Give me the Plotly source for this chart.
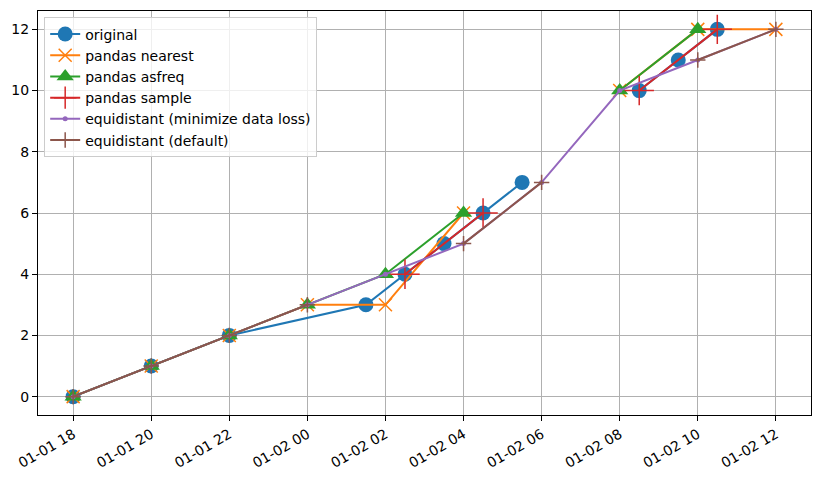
import plotly.graph_objects as go

# ---- data ----
orig_x = ["2021-01-01 18:00", "2021-01-01 20:00", "2021-01-01 22:00",
          "2021-01-02 01:30", "2021-01-02 02:30", "2021-01-02 03:30",
          "2021-01-02 04:30", "2021-01-02 05:30", "2021-01-02 07:00",
          "2021-01-02 08:30", "2021-01-02 09:30", "2021-01-02 10:30"]
orig_y = [0, 1, 2, 3, 4, 5, 6, 7, None, 10, 11, 12]

grid_x = ["2021-01-01 18:00", "2021-01-01 20:00", "2021-01-01 22:00",
          "2021-01-02 00:00", "2021-01-02 02:00", "2021-01-02 04:00",
          "2021-01-02 06:00", "2021-01-02 08:00", "2021-01-02 10:00",
          "2021-01-02 12:00"]
nearest_y = [0, 1, 2, 3, 3, 6, None, 10, 12, 12]
asfreq_y = [0, 1, 2, 3, 4, 6, None, 10, 12, None]
eq_min_y = [0, 1, 2, 3, 4, 5, 7, 10, 11, 12]
eq_def_y = [0, 1, 2, 3, None, 5, 7, None, 11, 12]

sample_x = ["2021-01-02 02:30", "2021-01-02 04:30", "2021-01-02 06:30",
            "2021-01-02 08:30", "2021-01-02 10:30"]
sample_y = [4, 6, None, 10, 12]

tick_vals = ["2021-01-01 18:00", "2021-01-01 20:00", "2021-01-01 22:00",
             "2021-01-02 00:00", "2021-01-02 02:00", "2021-01-02 04:00",
             "2021-01-02 06:00", "2021-01-02 08:00", "2021-01-02 10:00",
             "2021-01-02 12:00"]
tick_text = ["01-01 18", "01-01 20", "01-01 22", "01-02 00", "01-02 02",
             "01-02 04", "01-02 06", "01-02 08", "01-02 10", "01-02 12"]
y_ticks = [0, 2, 4, 6, 8, 10, 12]

C = ["#1f77b4", "#ff7f0e", "#2ca02c", "#d62728", "#9467bd", "#8c564b"]

fig = go.Figure()
fig.add_trace(go.Scatter(x=orig_x, y=orig_y, name="original", mode="lines+markers",
                         line=dict(color=C[0], width=2),
                         marker=dict(symbol="circle", size=15, color=C[0])))
fig.add_trace(go.Scatter(x=grid_x, y=nearest_y, name="pandas nearest", mode="lines+markers",
                         line=dict(color=C[1], width=2),
                         marker=dict(symbol="x-thin", size=13, color=C[1],
                                     line=dict(color=C[1], width=1.5))))
fig.add_trace(go.Scatter(x=grid_x, y=asfreq_y, name="pandas asfreq", mode="lines+markers",
                         line=dict(color=C[2], width=2),
                         marker=dict(symbol="triangle-up", size=15, color=C[2])))
fig.add_trace(go.Scatter(x=sample_x, y=sample_y, name="pandas sample", mode="lines+markers",
                         line=dict(color=C[3], width=2),
                         marker=dict(symbol="cross-thin", size=21, color=C[3],
                                     line=dict(color=C[3], width=1.5))))
fig.add_trace(go.Scatter(x=grid_x, y=eq_min_y, name="equidistant (minimize data loss)",
                         mode="lines+markers",
                         line=dict(color=C[4], width=2),
                         marker=dict(symbol="circle", size=5, color=C[4])))
fig.add_trace(go.Scatter(x=grid_x, y=eq_def_y, name="equidistant (default)", mode="lines+markers",
                         line=dict(color=C[5], width=2),
                         marker=dict(symbol="cross-thin", size=11, color=C[5],
                                     line=dict(color=C[5], width=1.5))))

fig.update_layout(
    width=822, height=480,
    margin=dict(l=38, r=10, t=9.5, b=63.5),
    paper_bgcolor="white", plot_bgcolor="white",
    font=dict(family="DejaVu Sans", size=14, color="black"),
    showlegend=True,
    legend=dict(x=0.008, y=0.984, xanchor="left", yanchor="top",
                bgcolor="rgba(255,255,255,0.8)", bordercolor="#cccccc", borderwidth=1,
                font=dict(size=14), tracegroupgap=0, itemwidth=30),
)
fig.update_xaxes(
    type="date",
    range=["2021-01-01 17:06", "2021-01-02 12:54"],
    tickmode="array", tickvals=tick_vals, ticktext=tick_text,
    tickangle=-30,
    showgrid=True, gridcolor="#b0b0b0", gridwidth=1,
    showline=True, linecolor="black", linewidth=1, mirror=True,
    ticks="outside", ticklen=5, tickcolor="black",
    zeroline=False,
)
fig.update_yaxes(
    range=[-0.6, 12.6],
    tickmode="array", tickvals=y_ticks,
    showgrid=True, gridcolor="#b0b0b0", gridwidth=1,
    showline=True, linecolor="black", linewidth=1, mirror=True,
    ticks="outside", ticklen=5, tickcolor="black",
    zeroline=False,
)

fig.write_html("out.html")
